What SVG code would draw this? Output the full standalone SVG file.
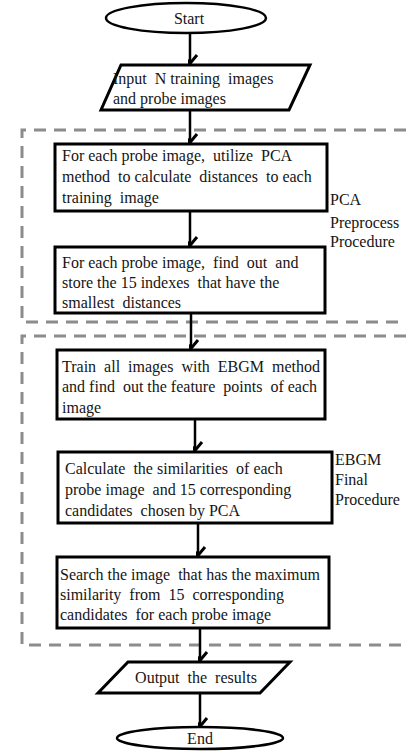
<svg xmlns="http://www.w3.org/2000/svg" width="406" height="751" viewBox="0 0 406 751">
  <style>
    .box { fill: #fff; stroke: #000; stroke-width: 3; }
    .term { fill: #fff; stroke: #000; stroke-width: 2.5; }
    .txt { font-family: "Liberation Serif", "Times New Roman", "DejaVu Serif", serif; font-size: 16px; fill: #151515; white-space: pre; }
    .mid { text-anchor: middle; }
    .edge { stroke: #000; stroke-width: 2.5; fill: none; marker-end: url(#arrow); }
    .dash { stroke: #8c8c8c; stroke-width: 3; fill: none; stroke-dasharray: 12 8; }
  </style>
  <defs>
    <marker id="arrow" viewBox="-10 -10 20 12" refX="0" refY="0" markerWidth="20" markerHeight="12" markerUnits="userSpaceOnUse" orient="auto-start-reverse">
      <path d="M -7 -9 L 0 -0.5 L 7 -9" fill="none" stroke="#000" stroke-width="3" transform="rotate(-90)"/>
    </marker>
  </defs>

  <rect width="406" height="751" fill="#fff"/>

  <!-- procedure regions (dashed frames) -->
  <g id="regions">
    <path class="dash" d="M 406 130 L 22 130 L 22 322 L 406 322"/>
    <path class="dash" d="M 406 336 L 22 336 L 22 645 L 406 645"/>
  </g>

  <!-- connectors -->
  <g id="connectors">
    <line class="edge" x1="190" y1="33" x2="190" y2="64"/>
    <line class="edge" x1="190" y1="110" x2="190" y2="143"/>
    <line class="edge" x1="190" y1="211" x2="190" y2="246"/>
    <line class="edge" x1="191" y1="313" x2="191" y2="349"/>
    <line class="edge" x1="195" y1="419" x2="195" y2="451"/>
    <line class="edge" x1="198" y1="523" x2="198" y2="556"/>
    <line class="edge" x1="200" y1="628" x2="200" y2="661"/>
    <line class="edge" x1="200" y1="693" x2="200" y2="727"/>
  </g>

  <g id="start">
    <ellipse class="term" cx="186" cy="18" rx="80" ry="15"/>
    <text class="txt mid" x="189" y="24">Start</text>
  </g>

  <g id="input">
    <polygon class="box" points="121,65 310,65 289,110 101,110"/>
    <text class="txt" x="113" y="84">Input  N training  images</text>
    <text class="txt" x="113" y="104">and probe images</text>
  </g>

  <g id="pca-distances">
    <rect class="box" x="55" y="144" width="272" height="67"/>
    <text class="txt" x="62" y="161">For each probe image,  utilize  PCA</text>
    <text class="txt" x="62" y="182">method  to calculate  distances  to each</text>
    <text class="txt" x="62" y="203">training  image</text>
  </g>

  <g id="pca-indexes">
    <rect class="box" x="55" y="247" width="270" height="66"/>
    <text class="txt" x="62" y="268">For each probe image,  find  out  and</text>
    <text class="txt" x="62" y="288">store the 15 indexes  that have the</text>
    <text class="txt" x="62" y="308">smallest  distances</text>
  </g>

  <g id="pca-label">
    <text class="txt" x="330" y="205">PCA</text>
    <text class="txt" x="330" y="228">Preprocess</text>
    <text class="txt" x="330" y="247">Procedure</text>
  </g>

  <g id="ebgm-train">
    <rect class="box" x="57" y="350" width="268" height="69"/>
    <text class="txt" x="62" y="372">Train  all  images  with  EBGM  method</text>
    <text class="txt" x="62" y="392">and find  out the feature  points  of each</text>
    <text class="txt" x="62" y="413">image</text>
  </g>

  <g id="ebgm-similarity">
    <rect class="box" x="58" y="452" width="274" height="71"/>
    <text class="txt" x="65" y="474">Calculate  the similarities  of each</text>
    <text class="txt" x="65" y="495">probe image  and 15 corresponding</text>
    <text class="txt" x="65" y="516">candidates  chosen by PCA</text>
  </g>

  <g id="ebgm-search">
    <rect class="box" x="57" y="557" width="272" height="71"/>
    <text class="txt" x="60" y="580">Search the image  that has the maximum</text>
    <text class="txt" x="60" y="600">similarity  from  15  corresponding</text>
    <text class="txt" x="60" y="620">candidates  for each probe image</text>
  </g>

  <g id="ebgm-label">
    <text class="txt" x="335" y="465">EBGM</text>
    <text class="txt" x="335" y="485">Final</text>
    <text class="txt" x="335" y="505">Procedure</text>
  </g>

  <g id="output">
    <polygon class="box" points="128,662 290,662 260,693 98,693"/>
    <text class="txt mid" x="196" y="683">Output  the  results</text>
  </g>

  <g id="end">
    <ellipse class="term" cx="200" cy="738" rx="83" ry="11"/>
    <text class="txt mid" x="200" y="744">End</text>
  </g>
</svg>
